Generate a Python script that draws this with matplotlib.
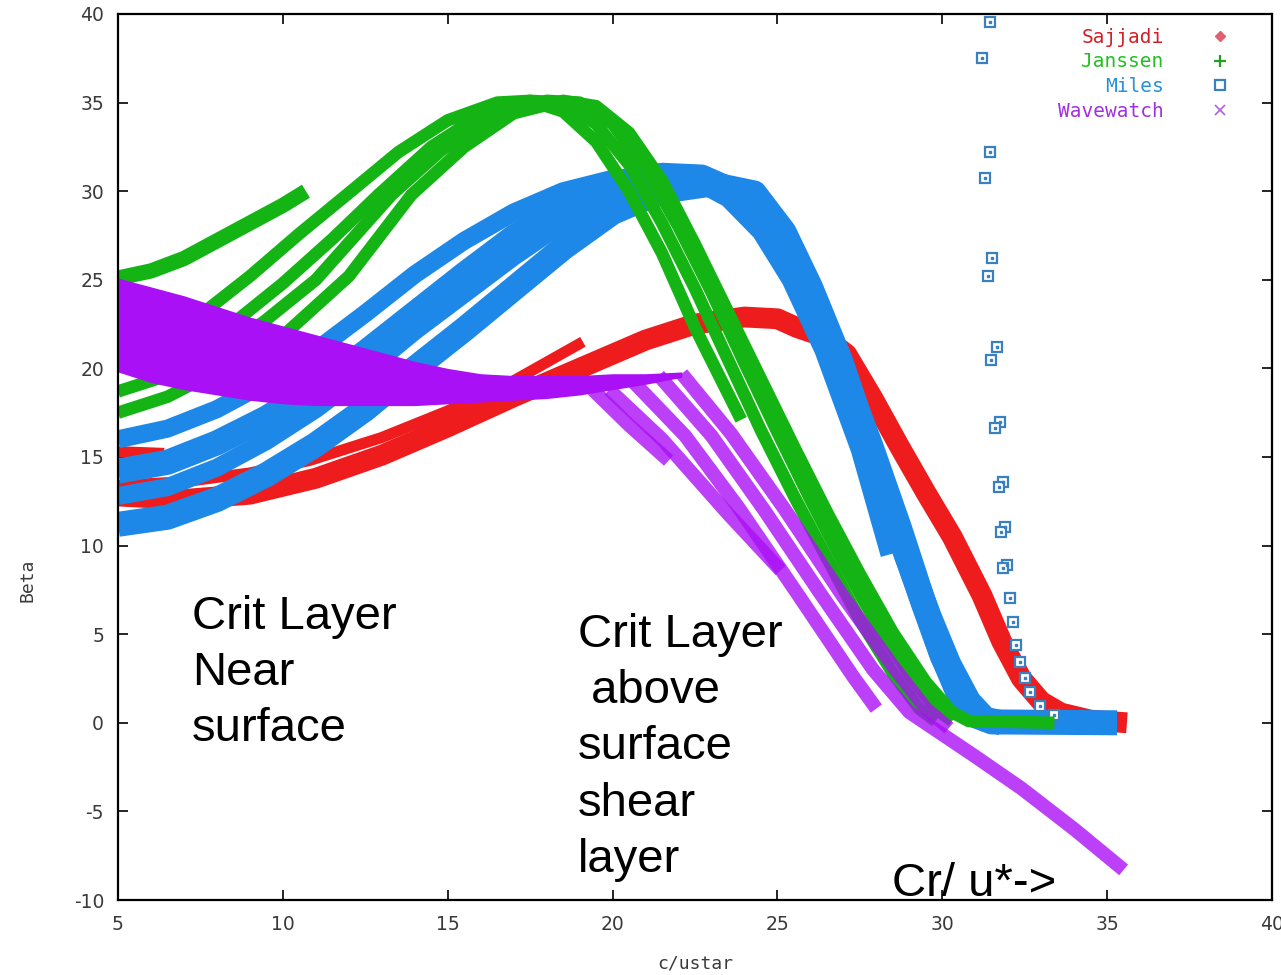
import matplotlib
matplotlib.use("Agg")
import matplotlib.pyplot as plt
from matplotlib.lines import Line2D

plt.rcParams["axes.unicode_minus"] = False

# Sajjadi (red) bands
sajjadi_a_x = [5.0, 6.4]
sajjadi_a_y = [15.3, 15.2]
sajjadi_b_x = [5.0, 7.0, 9.0, 10.8, 13.0, 15.0, 17.0, 19.1]
sajjadi_b_y = [13.4, 13.6, 14.1, 14.8, 16.1, 17.6, 19.3, 21.5]
sajjadi_c_x = [5.0, 7.0, 9.0, 11.0, 13.0, 15.0, 17.0, 19.0, 21.0, 22.5, 24.0, 25.0, 25.6,
               26.4, 27.1, 27.9, 28.7, 29.5, 30.3, 31.2, 31.8, 32.4, 33.0, 33.6, 34.5, 35.6]
sajjadi_c_y = [12.8, 12.6, 12.9, 13.8, 15.1, 16.7, 18.4, 20.0, 21.6, 22.5, 22.9, 22.8, 22.3,
               21.8, 20.8, 18.3, 15.6, 13.0, 10.5, 7.2, 4.6, 2.5, 1.2, 0.55, 0.15, 0.0]

# Janssen (green) bands
janssen_a_x = [5.0, 6.0, 7.0, 8.0, 9.0, 10.0, 10.7]
janssen_a_y = [25.1, 25.5, 26.2, 27.2, 28.2, 29.2, 30.0]
janssen_b_x = [5.0, 6.0, 7.0, 7.7, 9.0, 10.5, 12.2, 13.5, 15.0, 16.5, 17.5, 18.5, 19.5,
               20.5, 21.5, 22.5, 23.9]
janssen_b_y = [21.0, 21.7, 22.6, 23.3, 25.2, 27.6, 30.2, 32.2, 34.0, 35.0, 35.1, 34.5, 32.8,
               30.0, 26.5, 22.3, 17.1]
janssen_c_x = [5.0, 6.5, 8.6, 10.0, 11.5, 12.9, 14.5, 16.0, 17.5, 18.5, 19.5, 20.5, 21.5,
               22.5, 23.5, 24.5, 25.5, 26.5, 27.5, 28.5, 29.3, 29.8]
janssen_c_y = [20.2, 21.2, 22.7, 24.8, 27.3, 29.8, 32.5, 34.3, 35.1, 35.0, 33.8, 31.5, 28.2,
               24.5, 20.5, 16.5, 12.8, 9.3, 5.8, 2.8, 0.8, 0.1]
janssen_d_x = [5.0, 6.5, 8.0, 9.4, 11.0, 13.3, 14.8, 16.3, 18.0, 19.0, 20.0, 21.0, 22.0,
               23.0, 24.0, 25.0, 26.0, 27.0, 28.0, 29.0, 29.8, 30.3]
janssen_d_y = [18.7, 19.6, 21.0, 22.6, 25.0, 29.8, 32.3, 34.2, 35.1, 35.0, 33.8, 31.3, 28.0,
               24.3, 20.3, 16.4, 12.6, 9.0, 5.6, 2.7, 0.8, 0.1]
janssen_e_x = [5.0, 6.5, 8.5, 10.1, 12.0, 13.9, 15.5, 17.0, 18.5, 19.5, 20.5, 21.5, 22.5,
               23.5, 24.5, 25.5, 26.5, 27.5, 28.5, 29.5, 30.3, 30.8, 33.4]
janssen_e_y = [17.5, 18.4, 20.3, 22.0, 25.2, 29.8, 32.5, 34.4, 35.1, 34.8, 33.3, 30.6, 27.0,
               23.2, 19.4, 15.6, 11.9, 8.4, 5.1, 2.3, 0.6, 0.1, 0.0]

# Miles (blue) bands
miles_a_x = [5.0, 6.5, 8.0, 9.5, 11.0, 12.5, 14.0, 15.5, 17.0, 18.5, 20.0, 21.5, 22.5,
             23.5, 24.5, 25.4, 26.4, 27.5, 28.4]
miles_a_y = [16.0, 16.6, 17.7, 19.2, 21.0, 23.1, 25.3, 27.2, 28.8, 30.0, 30.7, 30.9, 30.6,
             29.6, 27.7, 25.0, 21.0, 15.4, 9.5]
miles_b_x = [5.0, 6.5, 8.0, 9.5, 11.0, 12.5, 14.0, 15.5, 17.0, 18.5, 20.0, 21.5, 22.7,
             23.8, 24.8, 25.8, 26.8, 27.8, 28.7, 29.4, 30.0, 30.5, 31.0, 31.5, 35.3]
miles_b_y = [14.2, 14.7, 15.8, 17.2, 18.9, 20.9, 23.1, 25.3, 27.4, 29.2, 30.4, 30.9, 30.8,
             29.9, 27.9, 24.8, 20.6, 15.8, 11.0, 7.0, 3.8, 1.6, 0.4, 0.05, 0.0]
miles_c_x = [5.0, 6.5, 8.0, 9.5, 11.0, 12.5, 14.0, 15.5, 17.0, 18.5, 20.0, 21.5, 22.8,
             23.9, 24.9, 25.8, 26.7, 27.7, 28.6, 29.3, 29.9, 30.5, 31.0]
miles_c_y = [12.8, 13.3, 14.4, 15.9, 17.7, 19.8, 22.1, 24.2, 26.3, 28.2, 29.7, 30.5, 30.7,
             30.0, 27.8, 24.7, 20.7, 15.6, 10.6, 6.8, 3.7, 1.4, 0.3]
miles_d_x = [5.0, 6.5, 8.0, 9.5, 11.0, 12.5, 14.0, 15.5, 17.0, 18.5, 20.0, 21.5, 23.0,
             24.3, 25.2, 26.0, 26.9, 28.0, 28.9, 29.6, 30.2, 30.8, 31.3, 31.8]
miles_d_y = [11.2, 11.6, 12.6, 14.0, 15.7, 17.7, 20.0, 22.2, 24.5, 26.8, 28.8, 30.0, 30.4,
             29.9, 27.7, 24.6, 20.5, 14.5, 9.5, 6.0, 3.3, 1.2, 0.2, 0.0]
# Miles isolated points
miles_pts_x = [31.45, 31.21, 31.45, 31.30, 31.51, 31.39, 31.66, 31.48, 31.75, 31.60,
               31.84, 31.72, 31.90, 31.78, 31.96, 31.84, 32.05, 32.15, 32.24, 32.36,
               32.51, 32.66, 32.96, 33.4]
miles_pts_y = [39.56, 37.53, 32.22, 30.76, 26.24, 25.23, 21.22, 20.49, 16.99, 16.65,
               13.60, 13.32, 11.06, 10.78, 8.92, 8.75, 7.05, 5.70, 4.40, 3.44,
               2.54, 1.75, 0.96, 0.45]

# Wavewatch (purple): wide band edges, then falling strands
wave_band_x = [5.0, 6.0, 7.0, 8.0, 9.0, 10.0, 11.0, 12.0, 13.0, 14.0, 15.0, 16.0, 17.0,
               18.0, 19.0, 20.0, 21.0, 22.1]
wave_band_top = [25.1, 24.6, 24.1, 23.5, 22.9, 22.4, 21.9, 21.4, 20.9, 20.4, 20.0, 19.7,
                 19.6, 19.6, 19.6, 19.7, 19.7, 19.8]
wave_band_bottom = [19.8, 19.2, 18.8, 18.5, 18.2, 18.0, 17.9, 17.9, 17.9, 17.9, 18.0, 18.1,
                    18.2, 18.3, 18.5, 18.8, 19.1, 19.5]
wave_a_x = [19.4, 20.5, 21.7]
wave_a_y = [18.8, 16.8, 14.8]
wave_b_x = [19.9, 21.5, 23.5, 25.1]
wave_b_y = [18.8, 16.0, 11.8, 8.6]
wave_c_x = [20.6, 22.2, 23.8, 25.6, 27.3, 28.0]
wave_c_y = [19.3, 16.2, 12.2, 7.3, 2.6, 0.8]
wave_d_x = [21.4, 23.0, 24.6, 26.3, 27.9, 29.0, 29.8, 31.0, 32.4, 34.0, 35.5]
wave_d_y = [19.6, 16.2, 12.0, 7.3, 3.0, 0.6, -0.4, -1.9, -3.7, -6.0, -8.3]
wave_e_x = [22.1, 23.6, 25.2, 27.0, 28.5, 29.5, 30.2]
wave_e_y = [19.7, 16.3, 12.1, 7.1, 3.2, 0.8, -0.3]

RED = "#ee1c1c"
GREEN = "#14b414"
BLUE = "#1e88e8"
PURPLE = "#aa10f5"

fig = plt.figure(figsize=(12.81, 9.75), dpi=100)
ax = fig.add_axes([118 / 1281, 75 / 975, 1154 / 1281, 886 / 975])

for xs, ys, lw in [(sajjadi_a_x, sajjadi_a_y, 8), (sajjadi_b_x, sajjadi_b_y, 8),
                   (sajjadi_c_x, sajjadi_c_y, 15)]:
    ax.plot(xs, ys, color=RED, lw=lw, solid_capstyle="butt", solid_joinstyle="round",
            zorder=2)

for xs, ys, lw in [(miles_a_x, miles_a_y, 13), (miles_b_x, miles_b_y, 18),
                   (miles_c_x, miles_c_y, 13), (miles_d_x, miles_d_y, 18)]:
    ax.plot(xs, ys, color=BLUE, lw=lw, solid_capstyle="butt", solid_joinstyle="round",
            zorder=3)
ax.plot(miles_pts_x, miles_pts_y, ls="none", marker="s", ms=7, mfc="white",
        mec="#3a80c0", mew=1.6, zorder=3)
ax.plot(miles_pts_x, miles_pts_y, ls="none", marker="s", ms=2, color="#3a80c0", zorder=3)

for xs, ys, lw in [(janssen_a_x, janssen_a_y, 11), (janssen_b_x, janssen_b_y, 9),
                   (janssen_c_x, janssen_c_y, 9), (janssen_d_x, janssen_d_y, 9),
                   (janssen_e_x, janssen_e_y, 9)]:
    ax.plot(xs, ys, color=GREEN, lw=lw, solid_capstyle="butt", solid_joinstyle="round",
            zorder=4)

ax.fill_between(wave_band_x, wave_band_bottom, wave_band_top, color=PURPLE, lw=0,
                zorder=5)
for xs, ys in [(wave_a_x, wave_a_y), (wave_b_x, wave_b_y), (wave_c_x, wave_c_y),
               (wave_d_x, wave_d_y), (wave_e_x, wave_e_y)]:
    ax.plot(xs, ys, color=PURPLE, lw=10, alpha=0.8, solid_capstyle="butt",
            solid_joinstyle="round", zorder=5)

ax.set_xlim(5, 40)
ax.set_ylim(-10, 40)
ax.set_xticks(range(5, 41, 5))
ax.set_yticks(range(-10, 41, 5))
ax.tick_params(direction="in", length=7, width=1.2, top=True, right=True,
               labelsize=13.5, labelcolor="#3a3a3a")
ax.tick_params(axis="y", pad=10)
ax.tick_params(axis="x", pad=11)
for sp in ax.spines.values():
    sp.set_linewidth(1.6)
    sp.set_zorder(6)

# legend, gnuplot style
handles = [
    Line2D([], [], ls="none", marker="D", ms=5, color="#e06070"),
    Line2D([], [], ls="none", marker="+", ms=8, mew=1.6, color="#20a020"),
    Line2D([], [], ls="none", marker="s", ms=7, mfc="white", mec="#3a80c0", mew=1.6),
    Line2D([], [], ls="none", marker="x", ms=7, mew=1.2, color="#b060e0"),
]
names = ["Sajjadi", "Janssen", "Miles", "Wavewatch"]
text_colors = ["#d0202a", "#20c020", "#2a90d8", "#a030e0"]
leg = ax.legend(handles, names, loc="upper right", frameon=False, markerfirst=False,
                prop={"family": "DejaVu Sans Mono", "size": 14}, handletextpad=2.4,
                labelspacing=0.3, borderaxespad=0.3, handlelength=1.0,
                bbox_to_anchor=(0.975, 1.0))
for txt, c in zip(leg.get_texts(), text_colors):
    txt.set_color(c)
    txt.set_ha("right")

fig.text(28 / 1281, 1 - 580 / 975, "Beta", rotation=90, ha="center", va="center",
         fontsize=13, family="DejaVu Sans Mono", color="#3a3a3a")
fig.text(695 / 1281, 1 - 963 / 975, "c/ustar", ha="center", va="center",
         fontsize=13, family="DejaVu Sans Mono", color="#3a3a3a")

note_font = {"family": "Liberation Sans", "size": 34, "color": "black"}
fig.text(192 / 1281, 1 - 595 / 975, "Crit Layer\nNear\nsurface", ha="left", va="top",
         linespacing=1.36, **note_font)
fig.text(578 / 1281, 1 - 613 / 975, "Crit Layer\n above\nsurface\nshear\nlayer",
         ha="left", va="top", linespacing=1.36, **note_font)
fig.text(892 / 1281, 1 - 896 / 975, "Cr/ u*->", ha="left", va="baseline", **note_font)

fig.savefig("out.png", dpi=100)
